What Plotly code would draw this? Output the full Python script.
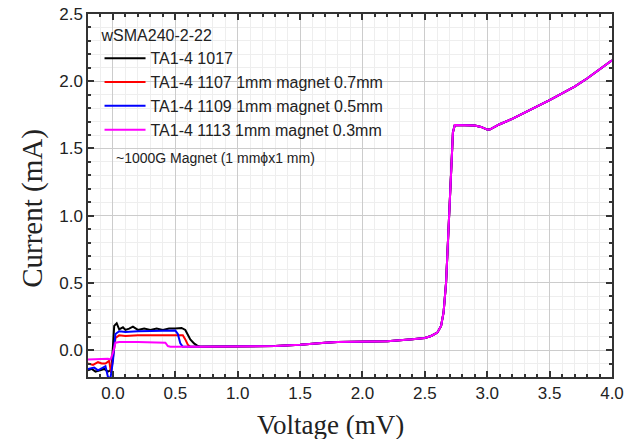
import plotly.graph_objects as go

# Shared quasiparticle branch above the gap (all four sweeps overlap here)
v_hi = [0.70, 1.00, 1.30, 1.50, 1.60, 1.70, 1.80, 2.00, 2.20, 2.40, 2.50, 2.55, 2.60, 2.63,
        2.65, 2.67, 2.69, 2.71, 2.725, 2.74, 2.80, 2.90, 2.95, 3.00, 3.02, 3.10, 3.20, 3.30,
        3.40, 3.50, 3.60, 3.70, 3.80, 3.90, 4.00]
i_hi = [0.025, 0.025, 0.030, 0.040, 0.050, 0.055, 0.060, 0.060, 0.065, 0.080, 0.090, 0.105, 0.130, 0.180,
        0.280, 0.500, 0.900, 1.350, 1.620, 1.675, 1.675, 1.670, 1.660, 1.640, 1.640, 1.680, 1.720, 1.765,
        1.810, 1.860, 1.910, 1.960, 2.020, 2.085, 2.155]

# Sub-gap sections, one per sweep
v_1017 = [-0.20, -0.17, -0.14, -0.10, -0.07, -0.04, -0.02, -0.01, 0.00, 0.01, 0.03, 0.05, 0.08, 0.10,
          0.13, 0.16, 0.20, 0.25, 0.30, 0.35, 0.40, 0.45, 0.50, 0.55, 0.58, 0.60, 0.62, 0.65, 0.68]
i_1017 = [-0.15, -0.14, -0.16, -0.15, -0.14, -0.16, -0.15, -0.12, 0.00, 0.18, 0.20, 0.155, 0.17, 0.15,
          0.16, 0.175, 0.15, 0.16, 0.15, 0.16, 0.15, 0.16, 0.16, 0.165, 0.15, 0.12, 0.08, 0.05, 0.03]

v_1107 = [-0.20, -0.16, -0.12, -0.09, -0.06, -0.03, -0.015, 0.00, 0.02, 0.05, 0.10, 0.20, 0.30,
          0.40, 0.50, 0.56, 0.58, 0.60, 0.62]
i_1107 = [-0.10, -0.11, -0.09, -0.10, -0.10, -0.08, -0.17, -0.05, 0.09, 0.11, 0.105, 0.11, 0.11,
          0.11, 0.11, 0.11, 0.08, 0.04, 0.025]

v_1109 = [-0.20, -0.15, -0.12, -0.08, -0.06, -0.04, -0.02, 0.00, 0.02, 0.05, 0.10, 0.20, 0.30,
          0.40, 0.50, 0.52, 0.54, 0.56]
i_1109 = [-0.14, -0.13, -0.15, -0.13, -0.12, -0.20, -0.21, -0.08, 0.12, 0.14, 0.135, 0.14, 0.14,
          0.14, 0.145, 0.12, 0.05, 0.025]

v_1113 = [-0.20, -0.10, -0.04, -0.02, 0.00, 0.02, 0.05, 0.20, 0.40, 0.42, 0.44, 0.46]
i_1113 = [-0.07, -0.065, -0.065, -0.07, -0.02, 0.055, 0.06, 0.06, 0.06, 0.055, 0.03, 0.025]

names = ["TA1-4 1017", "TA1-4 1107 1mm magnet 0.7mm",
         "TA1-4 1109 1mm magnet 0.5mm", "TA1-4 1113 1mm magnet 0.3mm"]
colors = ["#000000", "#ff0000", "#0000ff", "#ff00ff"]
sub_v = [v_1017, v_1107, v_1109, v_1113]
sub_i = [i_1017, i_1107, i_1109, i_1113]

fig = go.Figure()
for k in range(4):
    fig.add_trace(go.Scatter(
        x=sub_v[k] + v_hi, y=sub_i[k] + i_hi, mode="lines", name=names[k],
        line=dict(color=colors[k], width=2)))

sans = "Liberation Sans, Arial, sans-serif"
serif = "Liberation Serif, Times New Roman, serif"
tick_font = dict(family=sans, size=17, color="#222")

axis_common = dict(
    showline=True, linecolor="#333", linewidth=1.5, mirror="allticks",
    ticks="inside", ticklen=6, tickwidth=1.5, tickcolor="#333",
    showgrid=True, gridcolor="#cccccc", gridwidth=1, zeroline=False,
    tickfont=tick_font, automargin=False,
    minor=dict(dtick=0.1, ticks="inside", ticklen=3, tickcolor="#333",
               showgrid=True, gridcolor="#eeeeee", gridwidth=1),
)

fig.update_xaxes(range=[-0.2, 4.0], dtick=0.5, tick0=0, tickformat=".1f", **axis_common)
fig.update_yaxes(range=[-0.2, 2.5], dtick=0.5, tick0=0, tickformat=".1f", **axis_common)

# Axis titles
fig.add_annotation(text="Voltage (mV)", xref="paper", yref="paper", x=0.462, y=-0.132,
                   xanchor="center", yanchor="middle", showarrow=False,
                   font=dict(family=serif, size=27, color="#222"))
fig.add_annotation(text="Current (mA)", xref="paper", yref="paper", x=-0.105, y=0.466,
                   xanchor="center", yanchor="middle", textangle=-90, showarrow=False,
                   font=dict(family=serif, size=29, color="#222"))

fig.add_annotation(text="~1000G Magnet (1 mm\u03d5x1 mm)", xref="paper", yref="paper",
                   x=0.05, y=0.603, xanchor="left", yanchor="middle", showarrow=False,
                   font=dict(family=sans, size=14, color="#222"))

fig.update_layout(
    width=629, height=439,
    margin=dict(l=88, r=17, t=14, b=62, autoexpand=False),
    plot_bgcolor="white", paper_bgcolor="white",
    legend=dict(x=0.022, y=0.982, xanchor="left", yanchor="top",
                bgcolor="rgba(0,0,0,0)", borderwidth=0, itemwidth=41,
                tracegroupgap=0,
                title=dict(text="wSMA240-2-22", font=dict(family=sans, size=16, color="#222")),
                font=dict(family=sans, size=16, color="#222")),
    showlegend=True,
)

fig.write_html("out.html")
